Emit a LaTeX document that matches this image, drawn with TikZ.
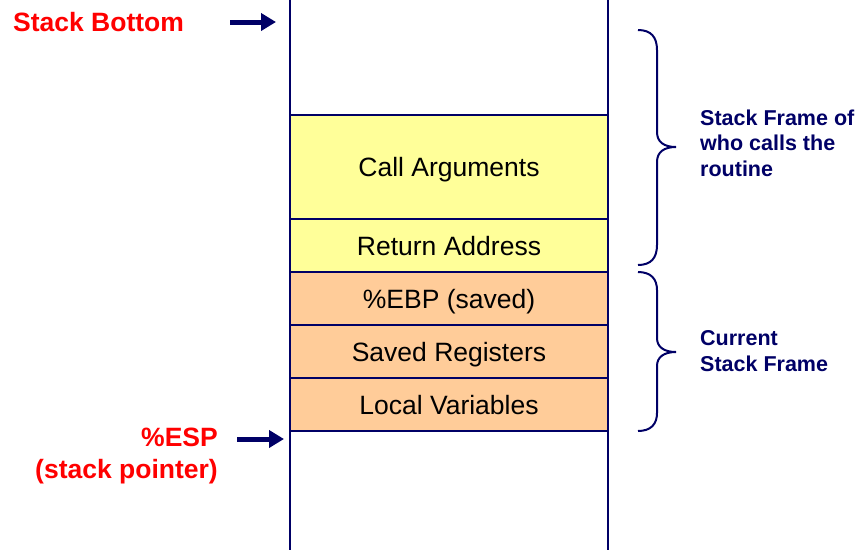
\documentclass[tikz,border=0pt]{standalone}
\usepackage{fontspec}
\setmainfont{Liberation Sans}
\usetikzlibrary{arrows.meta}
\definecolor{navy}{RGB}{0,0,102}
\definecolor{cellyellow}{RGB}{255,255,153}
\definecolor{cellorange}{RGB}{255,204,153}
\definecolor{labelred}{RGB}{255,0,0}
\tikzset{
  cell/.style={draw=navy, line width=2pt, minimum width=318pt, inner sep=0pt,
    text height=19.5pt, text depth=0pt,
    font=\fontsize{26.5}{30}\selectfont, text=black},
  redlabel/.style={inner sep=0pt, text=labelred, font=\bfseries\fontsize{26.5}{32}\selectfont},
  bluelabel/.style={inner sep=0pt, text=navy, align=left, font=\bfseries\fontsize{21.5}{25.5}\selectfont},
  pointer/.style={draw=navy, line width=5pt, -{Triangle[length=15pt,width=17pt]}},
  framebrace/.style={draw=navy, line width=2pt}
}
\begin{document}
\begin{tikzpicture}[x=1pt,y=-1pt]
\useasboundingbox (0,0) rectangle (860,550);
% stack column walls
\draw[navy, line width=2pt] (290,0) -- (290,550);
\draw[navy, line width=2pt] (608,0) -- (608,550);
% stack cells
\node[cell, fill=cellyellow, minimum height=104pt] (args) at (449,167) {Call Arguments};
\node[cell, fill=cellyellow, minimum height=53pt] (ret) at (449,245.5) {Return Address};
\node[cell, fill=cellorange, minimum height=53pt] (ebp) at (449,298.5) {\%EBP (saved)};
\node[cell, fill=cellorange, minimum height=53pt] (regs) at (449,351.5) {Saved Registers};
\node[cell, fill=cellorange, minimum height=53pt] (locals) at (449,404.5) {Local Variables};
% left labels and pointers
\node[redlabel, anchor=west] (bottom) at (13,22) {Stack Bottom};
\coordinate (bottomtail) at (230,22);
\coordinate (bottomtip) at (276,22);
\draw[pointer] (bottomtail) -- (bottomtip);
\node[redlabel, anchor=east, align=right] (esp) at (218,456) {\%ESP\\(stack pointer)};
\coordinate (esptail) at (237,439);
\coordinate (esptip) at (284,439);
\draw[pointer] (esptail) -- (esptip);
% braces
\draw[framebrace] (638,30) .. controls (651,30) and (657,37) .. (657,50)
  -- (657,132) .. controls (657,142) and (664,147) .. (676,147)
  .. controls (664,147) and (657,152) .. (657,162)
  -- (657,245) .. controls (657,258) and (651,265) .. (638,265);
\draw[framebrace] (638,272) .. controls (651,272) and (657,279) .. (657,290)
  -- (657,338) .. controls (657,347) and (664,352) .. (676,352)
  .. controls (664,352) and (657,357) .. (657,366)
  -- (657,413) .. controls (657,424) and (651,431) .. (638,431);
\node[bluelabel, anchor=west] (caller) at (700,143) {Stack Frame of\\who calls the\\routine};
\node[bluelabel, anchor=west] (current) at (700,351) {Current\\Stack Frame};
\end{tikzpicture}
\end{document}
